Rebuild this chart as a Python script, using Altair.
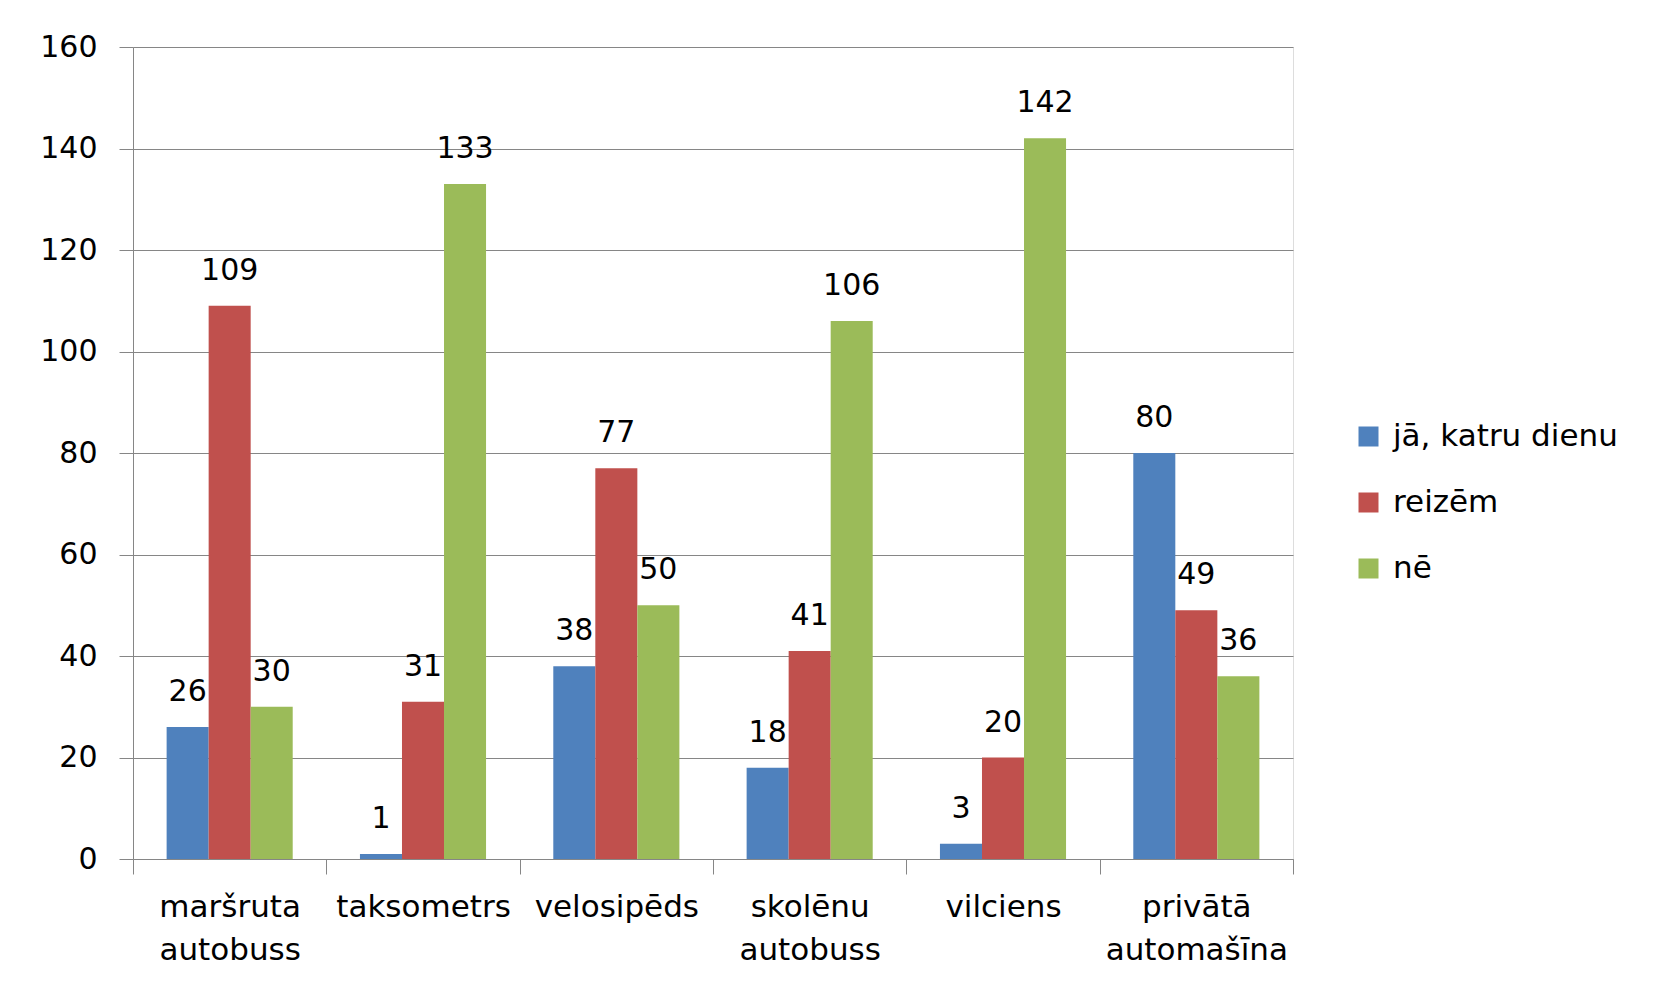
import altair as alt
import pandas as pd

categories = ["maršruta autobuss", "taksometrs", "velosipēds", "skolēnu autobuss", "vilciens", "privātā automašīna"]
series = ["jā, katru dienu", "reizēm", "nē"]
ja_values = [26, 1, 38, 18, 3, 80]
reizem_values = [109, 31, 77, 41, 20, 49]
ne_values = [30, 133, 50, 106, 142, 36]
colors = ["#4F81BD", "#C0504D", "#9BBB59"]
y_ticks = [0, 20, 40, 60, 80, 100, 120, 140, 160]

rows = []
for s, vals in zip(series, [ja_values, reizem_values, ne_values]):
    for c, v in zip(categories, vals):
        rows.append({"kategorija": c, "atbilde": s, "skaits": v})
df = pd.DataFrame(rows)

FONT = "DejaVu Sans"
FS_NUM = 30
FS_TXT = 31

x = alt.X("kategorija:N", sort=categories, title=None,
          scale=alt.Scale(paddingInner=0, paddingOuter=0),
          axis=alt.Axis(labelAngle=0, tickBand="extent", tickSize=15, labelPadding=18,
                        labelExpr="datum.value ? split(datum.value, ' ') : ''", labelLineHeight=43,
                        labelFont=FONT, labelFontSize=FS_TXT, labelColor="#000000", labelLimit=400,
                        domainColor="#868686", tickColor="#868686", labelBaseline="top"))
xo = alt.XOffset("atbilde:N", sort=series, scale=alt.Scale(paddingInner=0, paddingOuter=0.8))
y = alt.Y("skaits:Q", title=None,
          scale=alt.Scale(domain=[0, 160], nice=False),
          axis=alt.Axis(values=y_ticks, tickSize=14, labelPadding=22,
                        labelFont=FONT, labelFontSize=FS_NUM, labelColor="#000000",
                        domainColor="#868686", tickColor="#868686",
                        gridColor="#868686", gridWidth=1.2))
color = alt.Color("atbilde:N", sort=series,
                  scale=alt.Scale(domain=series, range=colors),
                  legend=alt.Legend(title=None, orient="none", legendX=1220, legendY=374,
                                    symbolType="square", symbolSize=400, symbolStrokeWidth=0,
                                    labelFont=FONT, labelFontSize=FS_TXT, labelColor="#000000",
                                    labelLimit=500, rowPadding=34, labelOffset=9))

bars = alt.Chart(df).mark_bar().encode(x=x, xOffset=xo, y=y, color=color)
labels = alt.Chart(df).mark_text(font=FONT, fontSize=FS_NUM, baseline="alphabetic", dy=-26,
                                 color="#000000").encode(
    x=x, xOffset=xo, y=y, text=alt.Text("skaits:Q"))

chart = (bars + labels).properties(
    width=1160, height=812,
    autosize=alt.AutoSizeParams(type="none"),
    padding={"left": 125, "top": 39, "right": 357, "bottom": 121},
).configure_view(stroke=None).configure(background="#ffffff")

chart.save("out.html", embed_options={"renderer": "svg", "actions": False})
